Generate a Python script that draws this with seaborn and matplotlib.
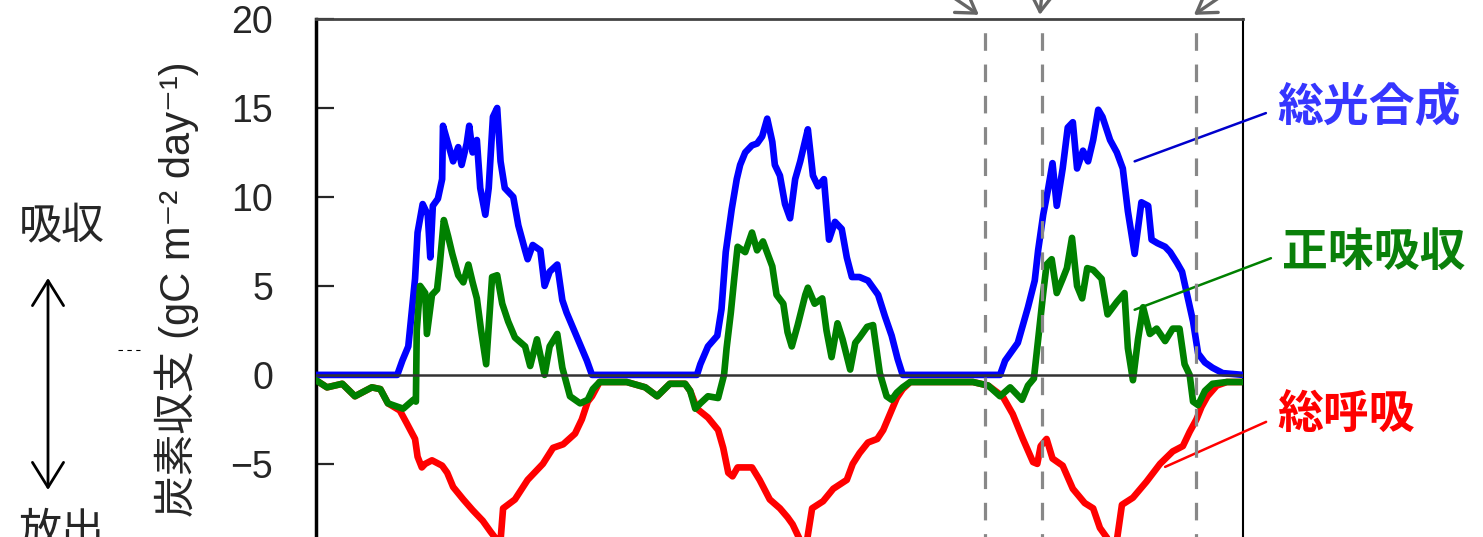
import matplotlib
matplotlib.use("Agg")
import matplotlib.pyplot as plt
from matplotlib.lines import Line2D
import pandas as pd
import seaborn as sns

# Carbon fluxes over three growing seasons (gC m-2 day-1), day of record on x
gpp_day = [0, 96, 102, 109, 113, 117, 120, 126, 132, 135, 138, 144, 149, 150, 156, 162, 168, 172, 178, 181,
           185, 190, 194, 200, 204, 209, 214, 218, 223, 229, 233, 239, 247, 250, 256, 265, 270, 276, 285, 291,
           296, 304, 312, 320, 326,
           450, 454, 463, 474, 479, 484, 491, 497, 501, 507, 515, 521, 527, 533, 539, 542, 548, 554, 560, 566,
           572, 578, 581, 587, 593, 600, 606, 613, 621, 627, 633, 642, 652, 664, 672, 680, 687, 693,
           808, 814, 829, 841, 849, 853, 859, 865, 870, 875, 882, 888, 894, 899, 906, 912, 918, 924, 929, 938,
           946, 953, 959, 967, 975, 983, 987, 994, 1003, 1009, 1017, 1023, 1029, 1036, 1042, 1050, 1059, 1071, 1095]
gpp_val = [0, 0, 0.8, 1.6, 3.5, 5.4, 8.0, 9.6, 9.0, 6.6, 9.5, 9.9, 11.0, 14.0, 13.0, 12.0, 12.8, 11.8, 13.0, 14.0,
           12.5, 13.2, 10.5, 9.0, 10.5, 14.5, 15.0, 12.0, 10.5, 10.2, 10.0, 8.4, 7.0, 6.5, 7.3, 7.0, 5.0, 5.8, 6.2, 4.2,
           3.5, 2.6, 1.7, 0.8, 0,
           0, 0.6, 1.6, 2.2, 3.7, 6.9, 9.3, 11.0, 11.8, 12.5, 12.9, 13.0, 13.4, 14.4, 13.1, 11.8, 11.2, 9.6, 8.8, 11.0,
           12.0, 13.2, 13.8, 11.2, 10.6, 11.0, 7.6, 8.6, 8.2, 6.6, 5.5, 5.5, 5.3, 4.5, 3.3, 2.2, 0.9, 0,
           0, 0.8, 1.8, 3.8, 5.3, 7.0, 9.0, 10.5, 11.9, 9.5, 11.6, 13.9, 14.2, 11.6, 12.6, 12.0, 13.2, 14.9, 14.5, 13.2,
           12.5, 11.6, 9.2, 6.8, 9.7, 9.5, 7.6, 7.4, 7.2, 6.9, 6.3, 5.8, 4.5, 3.0, 1.2, 0.7, 0.4, 0.1, 0]

nep_day = [0, 13, 31, 46, 66, 76, 85, 103, 115, 118, 119, 123, 129, 131, 137, 143, 146, 151, 156, 161,
           168, 174, 180, 185, 190, 195, 201, 208, 214, 220, 227, 235, 247, 253, 261, 270, 276, 285, 291, 300,
           312, 321, 327, 335, 359,
           367, 389, 403, 418, 436, 442, 448, 454, 463, 475, 482, 485, 490, 494, 498, 507, 515, 521, 528, 539,
           544, 552, 557, 562, 569, 578, 581, 589, 598, 603, 609, 616, 622, 631, 637, 642, 651, 658, 666, 674,
           680, 686, 693, 702, 733,
           761, 776, 794, 808, 820, 834, 841, 848, 853, 859, 863, 869, 875, 882, 887, 893, 899, 905, 911, 918,
           928, 935, 946, 955, 959, 965, 971, 977, 985, 993, 1003, 1012, 1020, 1026, 1032, 1036, 1042, 1050, 1059, 1076,
           1095]
nep_val = [-0.3, -0.7, -0.5, -1.2, -0.7, -0.8, -1.6, -1.9, -1.4, -1.5, 2.5, 5.0, 4.6, 2.3, 4.5, 4.8, 6.1, 8.7, 7.8, 6.8,
           5.6, 5.2, 6.2, 5.2, 4.3, 2.5, 0.6, 5.5, 5.6, 4.0, 3.0, 2.1, 1.6, 0.5, 2.0, 0.0, 1.6, 2.3, 0.4, -1.2,
           -1.6, -1.4, -0.8, -0.4, -0.4,
           -0.4, -0.7, -1.2, -0.5, -0.5, -0.9, -1.9, -1.6, -1.2, -1.3, 0.0, 1.5, 3.5, 5.4, 7.2, 6.9, 8.0, 7.0, 7.5, 6.1,
           4.5, 4.0, 2.4, 1.6, 2.8, 4.5, 4.9, 4.0, 4.3, 2.5, 1.0, 2.9, 2.0, 0.3, 1.8, 2.1, 2.7, 2.8, 0.1, -1.2,
           -1.4, -1.0, -0.7, -0.4, -0.4,
           -0.4, -0.4, -0.6, -1.2, -0.7, -1.4, -0.6, -0.2, 2.0, 4.6, 6.2, 6.5, 4.6, 5.4, 6.0, 7.7, 5.0, 4.3, 6.0, 5.9,
           5.4, 3.4, 4.1, 4.6, 1.5, -0.3, 2.0, 3.8, 2.3, 2.6, 1.9, 2.6, 2.6, 0.6, 0.0, -1.5, -1.7, -0.9, -0.5, -0.4,
           -0.4]

re_day = [0, 13, 31, 46, 66, 76, 85,
          99, 107, 117, 120, 125, 129, 137, 149, 155, 162, 174, 185, 197, 206, 214, 218, 221, 235, 250, 268,
          280, 292, 306, 314, 321, 326,
          335, 359, 367, 389, 403, 418, 436, 442,
          450, 463, 475, 481, 487, 492, 498, 515, 524, 536, 548, 557, 563, 572, 580, 586, 599, 611, 627, 634,
          642, 652, 663, 670, 678, 686,
          693, 702, 733, 761, 776, 794, 808,
          811, 823, 835, 847, 852, 856, 863, 870, 882, 894, 908, 918, 926, 935, 946, 952, 965, 981, 997, 1012,
          1024, 1032, 1040, 1046, 1053, 1064, 1076, 1095]
re_val = [-0.3, -0.7, -0.5, -1.2, -0.7, -0.8, -1.6,
          -2.0, -2.7, -3.6, -4.6, -5.2, -5.0, -4.8, -5.1, -5.5, -6.3, -7.0, -7.6, -8.2, -8.8, -9.3, -9.3, -7.5, -7.0, -5.9, -5.0,
          -4.1, -3.9, -3.3, -2.5, -1.5, -1.2,
          -0.4, -0.4, -0.4, -0.7, -1.2, -0.5, -0.5, -0.9,
          -1.9, -2.4, -3.1, -4.1, -5.5, -5.7, -5.2, -5.2, -5.9, -7.0, -7.5, -8.0, -8.4, -9.3, -9.3, -7.5, -7.1, -6.4, -5.9, -5.0,
          -4.4, -3.8, -3.6, -3.1, -2.2, -1.3,
          -0.8, -0.4, -0.4, -0.4, -0.4, -0.6, -1.1,
          -1.2, -2.2, -3.6, -4.9, -5.0, -4.0, -3.6, -4.7, -5.1, -6.4, -7.2, -7.5, -8.6, -9.2, -9.3, -7.3, -6.9, -6.0, -5.0, -4.3,
          -4.0, -3.2, -2.5, -1.8, -1.2, -0.6, -0.4, -0.4]

# days marked by the dashed lines and arrows
event_days = [790, 857, 1039]

series_names = ["総呼吸", "総光合成", "正味吸収"]
yticks = [-5, 0, 5, 10, 15, 20]

W, H = 1483, 537


def fx(px):
    return px / W


def fy(py):
    return 1 - py / H


sns.set_style("white")
plt.rcParams["font.family"] = ["Liberation Sans", "Noto Sans CJK JP", "DejaVu Sans"]

df = pd.concat([
    pd.DataFrame({"day": re_day, "flux": re_val, "series": series_names[0]}),
    pd.DataFrame({"day": gpp_day, "flux": gpp_val, "series": series_names[1]}),
    pd.DataFrame({"day": nep_day, "flux": nep_val, "series": series_names[2]}),
])

fig = plt.figure(figsize=(W / 100, H / 100), dpi=100)
ax = fig.add_axes([fx(316), 0, (1243 - 316) / W, (H - 19) / H])

line_colors = {"総呼吸": "#ff0000", "総光合成": "#0000ff", "正味吸収": "#008000"}
for z, name in enumerate(series_names):
    sns.lineplot(data=df[df["series"] == name], x="day", y="flux", color=line_colors[name],
                 lw=4.8, errorbar=None, ax=ax, zorder=2 + z)

ax.axhline(0, color="#333333", lw=1.8, zorder=6)
for d in event_days:
    ax.axvline(d, ymin=1, ymax=0, color="#888888", lw=2.3, ls=(5.5, (5.5, 4.3)), zorder=7, clip_on=False)

ax.set_xlim(0, 1095)
ax.set_ylim(-9.11, 20)
ax.set_xticks([])
ax.set_yticks(yticks)
ax.set_xlabel("")
ax.set_ylabel("")
ax.tick_params(axis="y", direction="in", length=13, width=1.6, pad=31, labelsize=27, left=True)

ax.spines["bottom"].set_visible(False)
ax.spines["left"].set_linewidth(2.5)
ax.spines["left"].set_color("black")
ax.spines["right"].set_linewidth(1.5)
ax.spines["right"].set_color("black")
ax.spines["top"].set_linewidth(2.0)
ax.spines["top"].set_color("#444444")

# arrows pointing at the marked dates from above
arrow_offsets = [(-44, 30), (3, 30), (44, 30)]
tip_shift = [-7, -2, -2]
for d, off, s in zip(event_days, arrow_offsets, tip_shift):
    ax.annotate("", xy=(d + s, 1.008), xycoords=("data", "axes fraction"),
                xytext=off, textcoords="offset points", annotation_clip=False,
                arrowprops=dict(arrowstyle="->,head_length=0.55,head_width=0.35", color="#666666",
                                lw=2.4, mutation_scale=24, shrinkA=0, shrinkB=0))

# series labels with leader lines
label_specs = [
    ("総光合成", (967, 12.0), (1277, 109), "#3636ff", "#0000cc"),
    ("正味吸収", (967, 3.66), (1282, 254), "#0a800a", "#008000"),
    ("総呼吸", (1003, -5.17), (1277, 417), "#ff0000", "#ff0000"),
]
for text, xy, pos, tcol, lcol in label_specs:
    ax.annotate(text, xy=xy, xycoords="data", xytext=(fx(pos[0]), fy(pos[1])),
                textcoords="figure fraction", ha="left", va="center", fontsize=33,
                fontweight="bold", color=tcol, annotation_clip=False,
                arrowprops=dict(arrowstyle="-", color=lcol, lw=1.8, relpos=(0, 0.5),
                                shrinkA=6, shrinkB=0))

# axis label and uptake / release annotation on the left
fig.text(fx(177), fy(289), "炭素収支 (gC m⁻² day⁻¹)", rotation=90, ha="center", va="center", fontsize=30)
fig.text(fx(62), fy(228), "吸収", ha="center", va="center", fontsize=31)
fig.text(fx(62), fy(533), "放出", ha="center", va="center", fontsize=31)
ax.annotate("", xy=(fx(48), fy(278)), xycoords="figure fraction",
            xytext=(fx(48), fy(490)), textcoords="figure fraction", annotation_clip=False,
            arrowprops=dict(arrowstyle="<->,head_length=0.45,head_width=0.28", color="black",
                            lw=2, mutation_scale=40, shrinkA=0, shrinkB=0))
fig.add_artist(Line2D([fx(118), fx(140)], [fy(350), fy(350)], color="black", lw=0.8, ls=(0, (4, 4))))

fig.savefig("out.png", dpi=100)
